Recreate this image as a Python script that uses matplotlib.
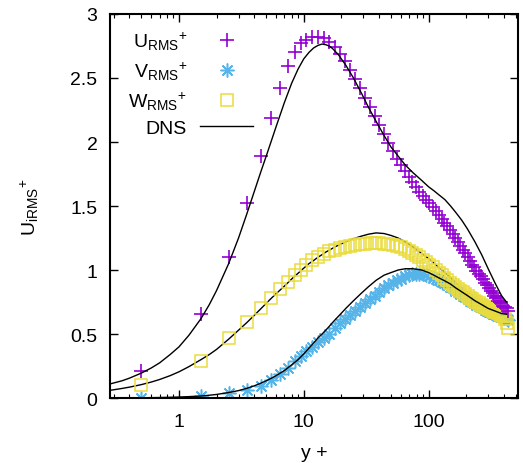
import matplotlib

matplotlib.use("Agg")
import matplotlib.pyplot as plt
from matplotlib.ticker import FixedLocator, FuncFormatter, LogLocator, NullFormatter

# sampled wall distances of the computed profiles
YPLUS = [
    0.5, 1.5, 2.5, 3.5, 4.5, 5.5, 6.5, 7.5, 8.5, 9.5,
    10.5, 11.7, 13.0, 14.4, 16.0, 17.7, 19.5, 21.5, 23.6, 25.9,
    28.4, 31.1, 34.0, 37.1, 40.4, 43.9, 47.6, 51.5, 55.6, 59.9,
    64.4, 69.1, 74.0, 79.1, 84.4, 89.9, 95.6, 101.5, 107.6, 113.9,
    120.4, 127.1, 134.0, 141.1, 148.4, 155.9, 163.6, 171.5, 179.6, 187.9,
    196.4, 205.1, 214.0, 223.1, 232.4, 241.9, 251.6, 261.5, 271.6, 281.9,
    292.4, 303.1, 314.0, 325.1, 336.4, 347.9, 359.6, 371.5, 383.6, 395.9,
    408.4, 421.1, 434.0,
]
U_RMS = [
    0.21, 0.66, 1.10, 1.52, 1.89, 2.19, 2.42, 2.59, 2.70, 2.77,
    2.80, 2.82, 2.82, 2.81, 2.78, 2.74, 2.69, 2.63, 2.56, 2.49,
    2.42, 2.34, 2.27, 2.20, 2.13, 2.06, 1.99, 1.93, 1.87, 1.82,
    1.77, 1.73, 1.69, 1.65, 1.61, 1.58, 1.55, 1.52, 1.49, 1.46,
    1.43, 1.40, 1.37, 1.34, 1.31, 1.28, 1.25, 1.22, 1.19, 1.16,
    1.13, 1.10, 1.07, 1.04, 1.02, 0.99, 0.97, 0.95, 0.93, 0.90,
    0.88, 0.86, 0.84, 0.82, 0.80, 0.78, 0.76, 0.75, 0.74, 0.72,
    0.71, 0.70, 0.68,
]
V_RMS = [
    0.0, 0.015, 0.04, 0.06, 0.095, 0.14, 0.19, 0.235, 0.29, 0.33,
    0.37, 0.40, 0.44, 0.47, 0.50, 0.55, 0.59, 0.62, 0.65, 0.68,
    0.71, 0.74, 0.77, 0.80, 0.83, 0.86, 0.88, 0.90, 0.92, 0.93,
    0.95, 0.96, 0.97, 0.97, 0.97, 0.97, 0.96, 0.95, 0.94, 0.93,
    0.92, 0.91, 0.90, 0.88, 0.87, 0.86, 0.84, 0.83, 0.81, 0.80,
    0.79, 0.77, 0.76, 0.75, 0.74, 0.73, 0.72, 0.71, 0.70, 0.69,
    0.68, 0.675, 0.67, 0.66, 0.655, 0.65, 0.645, 0.64, 0.635, 0.63,
    0.625, 0.62, 0.61,
]
W_RMS = [
    0.10, 0.29, 0.47, 0.595, 0.705, 0.785, 0.855, 0.91, 0.965, 1.0,
    1.04, 1.075, 1.10, 1.125, 1.145, 1.16, 1.17, 1.18, 1.19, 1.195,
    1.20, 1.205, 1.21, 1.21, 1.21, 1.205, 1.20, 1.195, 1.19, 1.18,
    1.165, 1.15, 1.135, 1.12, 1.10, 1.08, 1.06, 1.04, 1.02, 1.00,
    0.98, 0.96, 0.94, 0.92, 0.90, 0.885, 0.87, 0.855, 0.84, 0.825,
    0.81, 0.795, 0.78, 0.77, 0.76, 0.75, 0.74, 0.73, 0.72, 0.71,
    0.70, 0.695, 0.69, 0.68, 0.675, 0.67, 0.665, 0.66, 0.65, 0.64,
    0.62, 0.59, 0.55,
]

# reference DNS profiles
DNS_YPLUS = [
    0.28, 0.35, 0.4, 0.5, 0.6, 0.7, 0.85, 1.0, 1.2, 1.5,
    1.75, 2.0, 2.5, 3.0, 3.5, 4.0, 4.5, 5.0, 5.5, 6.0,
    7.0, 8.0, 9.0, 10, 11, 12, 13, 14, 15, 16,
    17, 19, 21.7, 25, 29, 33, 38, 44, 50, 57,
    65, 75, 88, 100, 110, 120, 135, 150, 165, 184,
    205, 235, 266, 300, 340, 384, 420,
]
DNS_U = [
    0.11, 0.135, 0.155, 0.195, 0.235, 0.275, 0.34, 0.40, 0.49, 0.62,
    0.73, 0.84, 1.05, 1.25, 1.44, 1.61, 1.76, 1.89, 2.01, 2.12,
    2.31, 2.46, 2.57, 2.65, 2.70, 2.735, 2.755, 2.765, 2.76, 2.75,
    2.73, 2.68, 2.60, 2.50, 2.38, 2.27, 2.16, 2.05, 1.96, 1.89,
    1.82, 1.76, 1.70, 1.65, 1.62, 1.59, 1.55, 1.50, 1.45, 1.39,
    1.32, 1.22, 1.12, 1.01, 0.90, 0.80, 0.75,
]
DNS_V = [
    0.0, 0.0, 0.001, 0.002, 0.003, 0.004, 0.006, 0.008, 0.011, 0.016,
    0.022, 0.028, 0.043, 0.058, 0.076, 0.095, 0.115, 0.135, 0.155, 0.175,
    0.215, 0.26, 0.30, 0.345, 0.39, 0.43, 0.47, 0.50, 0.53, 0.56,
    0.59, 0.64, 0.70, 0.76, 0.82, 0.87, 0.92, 0.96, 0.98, 1.0,
    1.01, 1.01, 1.0, 0.98, 0.96, 0.94, 0.915, 0.89, 0.86, 0.83,
    0.80, 0.76, 0.73, 0.70, 0.68, 0.66, 0.655,
]
DNS_W = [
    0.06, 0.075, 0.085, 0.105, 0.125, 0.145, 0.175, 0.205, 0.245, 0.30,
    0.34, 0.38, 0.46, 0.53, 0.59, 0.645, 0.695, 0.74, 0.78, 0.815,
    0.875, 0.93, 0.975, 1.015, 1.05, 1.075, 1.10, 1.12, 1.14, 1.155,
    1.17, 1.195, 1.22, 1.245, 1.265, 1.28, 1.29, 1.285, 1.27, 1.25,
    1.22, 1.18, 1.13, 1.09, 1.055, 1.02, 0.98, 0.94, 0.90, 0.86,
    0.82, 0.78, 0.74, 0.71, 0.68, 0.66, 0.65,
]

Y_TICKS = [0, 0.5, 1, 1.5, 2, 2.5, 3]


def setup_style() -> None:
    plt.rcParams.update(
        {
            "font.family": ["Liberation Sans", "DejaVu Sans"],
            "font.size": 14,
            "mathtext.fontset": "custom",
            "mathtext.rm": "Liberation Sans",
            "mathtext.it": "Liberation Sans:italic",
            "mathtext.bf": "Liberation Sans:bold",
            "axes.linewidth": 1.5,
            "xtick.direction": "in",
            "ytick.direction": "in",
            "xtick.top": True,
            "ytick.right": True,
        }
    )


def main() -> None:
    setup_style()
    fig = plt.figure(figsize=(5.23, 4.64), dpi=100)
    ax = fig.add_axes([0.2103, 0.140, 0.7801, 0.8277])

    ax.plot(DNS_YPLUS, DNS_W, color="black", lw=1.0, zorder=1)
    ax.plot(YPLUS, V_RMS, ls="none", marker=(8, 2, 0), ms=10, mew=1.1,
            color="#56B4E9", label=r"$\mathrm{V_{RMS}}{}^{+}$", zorder=2)
    ax.plot(YPLUS, W_RMS, ls="none", marker="s", ms=9, mew=1.1, mfc="none",
            color="#EADC3C", label=r"$\mathrm{W_{RMS}}{}^{+}$", zorder=3)
    ax.plot(YPLUS, U_RMS, ls="none", marker="+", ms=10, mew=1.2,
            color="#9400D3", label=r"$\mathrm{U_{RMS}}{}^{+}$", zorder=4)
    ax.plot(DNS_YPLUS, DNS_U, color="black", lw=1.0, zorder=5, label="DNS")
    ax.plot(DNS_YPLUS, DNS_V, color="black", lw=1.0, zorder=5)

    ax.set_xscale("log")
    ax.set_xlim(0.28, 520)
    ax.set_ylim(0, 3)
    ax.xaxis.set_major_locator(LogLocator(base=10, numticks=10))
    ax.xaxis.set_minor_locator(LogLocator(base=10, subs=range(2, 10), numticks=20))
    ax.xaxis.set_major_formatter(FuncFormatter(lambda v, _: f"{v:g}"))
    ax.xaxis.set_minor_formatter(NullFormatter())
    ax.yaxis.set_major_locator(FixedLocator(Y_TICKS))
    ax.yaxis.set_major_formatter(FuncFormatter(lambda v, _: f"{v:g}"))
    ax.tick_params(which="major", length=6, width=1.0)
    ax.tick_params(axis="x", which="major", pad=11)
    ax.tick_params(axis="y", which="major", pad=9)
    ax.tick_params(which="minor", length=3, width=0.8)

    ax.set_xlabel("y +", labelpad=10)
    ax.set_ylabel(r"$\mathrm{U_{iRMS}}{}^{+}$", labelpad=21)

    handles, labels = ax.get_legend_handles_labels()
    order = [2, 0, 1, 3]
    ax.legend(
        [handles[i] for i in order],
        [labels[i] for i in order],
        loc="upper right",
        bbox_to_anchor=(0.37, 0.98),
        frameon=False,
        markerfirst=False,
        handlelength=2.73,
        handletextpad=0.67,
        labelspacing=0.40,
        borderaxespad=0.0,
    )

    fig.savefig("out.png", dpi=100)
    plt.close(fig)


if __name__ == "__main__":
    main()
